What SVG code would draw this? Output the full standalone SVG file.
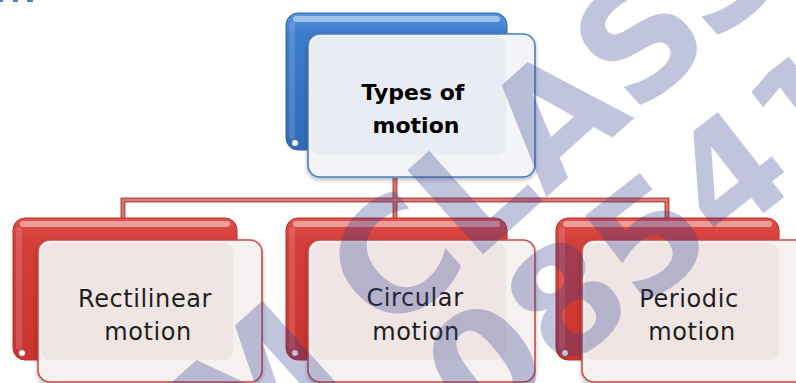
<svg xmlns="http://www.w3.org/2000/svg" width="796" height="383" viewBox="0 0 796 383">
  <defs>
    <linearGradient id="gRed" x1="0" y1="0" x2="0" y2="1">
      <stop offset="0" stop-color="#e0524c"/>
      <stop offset="0.15" stop-color="#d53f3a"/>
      <stop offset="1" stop-color="#c8342f"/>
    </linearGradient>
    <linearGradient id="gBlue" x1="0" y1="0" x2="0" y2="1">
      <stop offset="0" stop-color="#5a95dd"/>
      <stop offset="0.15" stop-color="#3d7ccc"/>
      <stop offset="1" stop-color="#3169b8"/>
    </linearGradient>
    <filter id="shadow" x="-10%" y="-10%" width="125%" height="130%">
      <feDropShadow dx="0" dy="2" stdDeviation="2" flood-color="#000" flood-opacity="0.3"/>
    </filter>
  </defs>
  <style>
    .backR { fill: url(#gRed); stroke: #b52f2a; stroke-width: 1; }
    .backB { fill: url(#gBlue); stroke: #2d62ad; stroke-width: 1; }
    .hl { fill: #ffffff; fill-opacity: 0.45; }
    .hlside { fill: #ffffff; fill-opacity: 0.14; }
    .curl { fill: #ffffff; stroke: #a02a26; stroke-width: 0.8; }
    .curlB { fill: #ffffff; stroke: #245395; stroke-width: 0.8; }
    .frontR { fill: #f5f1f1; stroke: #c94b47; stroke-width: 1.6; filter: url(#shadow); }
    .innerR { fill: #f0e5e5; }
    .frontB { fill: #f3f4f8; stroke: #4a7ec0; stroke-width: 1.6; filter: url(#shadow); }
    .innerB { fill: #e9ecf3; }
    .conn { fill: none; stroke: #c4504c; stroke-width: 5; }
    .connIn { fill: none; stroke: #dc8a88; stroke-width: 1.4; }
    .tTop { font-family: "DejaVu Sans", Verdana, sans-serif; font-weight: bold; font-size: 22px; fill: #000; text-anchor: middle; }
    .tChild { font-family: "DejaVu Sans", Verdana, sans-serif; font-size: 24px; letter-spacing: 0.6px; fill: #1e1e1e; text-anchor: middle; }
    .wm { font-family: "DejaVu Sans", sans-serif; font-weight: bold; fill: #2e3a8c; fill-opacity: 0.3; }
  </style>

  <g id="corner-fragments" fill="#4f81bd">
    <rect x="0" y="0" width="3" height="2"/>
    <rect x="13" y="0" width="5" height="2"/>
    <rect x="27" y="0" width="6" height="2"/>
  </g>

  <g id="connectors">
    <path class="conn" d="M395,178 V218 M123,218 V200 H667 V218"/>
    <path class="connIn" d="M395,178 V218 M123,218 V200 H667 V218"/>
  </g>

  <g id="node-types">
    <rect class="backB" x="286" y="13" width="221" height="137" rx="12"/>
    <rect class="hl" x="293" y="16" width="207" height="6" rx="3"/>
    <rect class="hlside" x="289" y="22" width="6" height="118" rx="3"/>
    <circle class="curlB" cx="295" cy="143" r="3.5"/>
    <rect class="frontB" x="308" y="34" width="227" height="143" rx="12"/>
    <rect class="innerB" x="311" y="37" width="195" height="118" rx="9"/>
    <text class="tTop" x="413" y="100">Types of</text>
    <text class="tTop" x="416" y="133">motion</text>
  </g>

  <g id="node-rectilinear">
    <rect class="backR" x="13" y="218" width="224" height="142" rx="12"/>
    <rect class="hl" x="20" y="221" width="210" height="6" rx="3"/>
    <rect class="hlside" x="16" y="227" width="6" height="123" rx="3"/>
    <circle class="curl" cx="22" cy="353" r="3.5"/>
    <rect class="frontR" x="38" y="240" width="224" height="142" rx="12"/>
    <rect class="innerR" x="41" y="243" width="192" height="117" rx="9"/>
    <text class="tChild" x="145" y="307">Rectilinear</text>
    <text class="tChild" x="148" y="340">motion</text>
  </g>

  <g id="node-circular">
    <rect class="backR" x="286" y="218" width="221" height="142" rx="12"/>
    <rect class="hl" x="293" y="221" width="207" height="6" rx="3"/>
    <rect class="hlside" x="289" y="227" width="6" height="123" rx="3"/>
    <circle class="curl" cx="295" cy="353" r="3.5"/>
    <rect class="frontR" x="308" y="240" width="227" height="142" rx="12"/>
    <rect class="innerR" x="311" y="243" width="195" height="117" rx="9"/>
    <text class="tChild" x="415" y="306">Circular</text>
    <text class="tChild" x="416" y="340">motion</text>
  </g>

  <g id="node-periodic">
    <rect class="backR" x="556" y="218" width="223" height="142" rx="12"/>
    <rect class="hl" x="563" y="221" width="209" height="6" rx="3"/>
    <rect class="hlside" x="559" y="227" width="6" height="123" rx="3"/>
    <circle class="curl" cx="565" cy="353" r="3.5"/>
    <rect class="frontR" x="582" y="240" width="226" height="142" rx="12"/>
    <rect class="innerR" x="585" y="243" width="194" height="117" rx="9"/>
    <text class="tChild" x="689" y="307">Periodic</text>
    <text class="tChild" x="692" y="340">motion</text>
  </g>

  <g id="watermark">
    <text class="wm" font-size="155" transform="translate(261,438) rotate(-42)" x="-47 160" y="12">MCLASS</text>
    <text class="wm" font-size="148" transform="translate(477,437) rotate(-38)">08541</text>
  </g>
</svg>
